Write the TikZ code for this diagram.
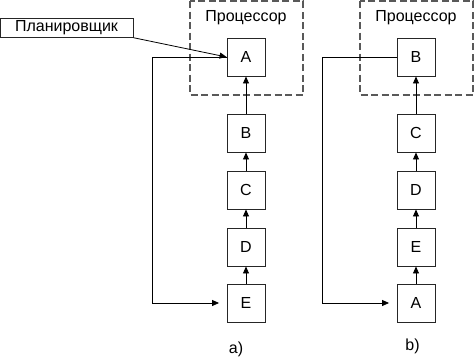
\documentclass[tikz,border=0pt]{standalone}
\usepackage{fontspec}
\setmainfont{Liberation Sans}
\usetikzlibrary{arrows.meta}
\begin{document}
\begin{tikzpicture}[x=1pt,y=-1pt,
  every node/.style={font=\fontsize{16}{19}\selectfont},
  blk/.style={draw=black!85, line width=0.9pt, minimum width=38pt, minimum height=38pt, inner sep=0pt},
  arr/.style={line width=0.8pt, -{Triangle[length=7pt,width=6pt]}},
  proc/.style={draw=black!65, line width=1.3pt, dash pattern=on 7pt off 3.5pt}]
\useasboundingbox (0,0) rectangle (474,359);
% processor boxes
\draw[proc] (190,1) rectangle (303,95);
\draw[proc] (360,1) rectangle (473,95);
\node (pa) at (246,18) {Процессор};
\node (pb) at (416,18) {Процессор};
% scheduler
\node[draw=black!85, line width=0.9pt, minimum width=133pt, minimum height=18.5pt, inner sep=0pt] (sch) at (66.5,28) {Планировщик};
% column a
\node[blk] (aA) at (246,57) {A};
\node[blk] (aB) at (246,133) {B};
\node[blk] (aC) at (246,190) {C};
\node[blk] (aD) at (246,247) {D};
\node[blk] (aE) at (246,303) {E};
% column b
\node[blk] (bB) at (416,57) {B};
\node[blk] (bC) at (416,133) {C};
\node[blk] (bD) at (416,190) {D};
\node[blk] (bE) at (416,247) {E};
\node[blk] (bA) at (416,303) {A};
% vertical arrows
\foreach \l/\u in {aB/aA,aC/aB,aD/aC,aE/aD,bC/bB,bD/bC,bE/bD,bA/bE}
  \draw[arr] (\l.north) -- (\u.south);
% feedback
\coordinate (fa) at (152,0);
\coordinate (fb) at (322,0);
\draw[arr, shorten >=7.5pt] (aA.west) -- (aA.west -| fa) |- (aE.west);
\draw[arr, shorten >=7.5pt] (bB.west) -- (bB.west -| fb) |- (bA.west);
\draw[arr] (sch.south east) -- (aA.west);
% labels
\node (la) at (236,349) {a)};
\node (lb) at (412.5,346) {b)};
\end{tikzpicture}
\end{document}
